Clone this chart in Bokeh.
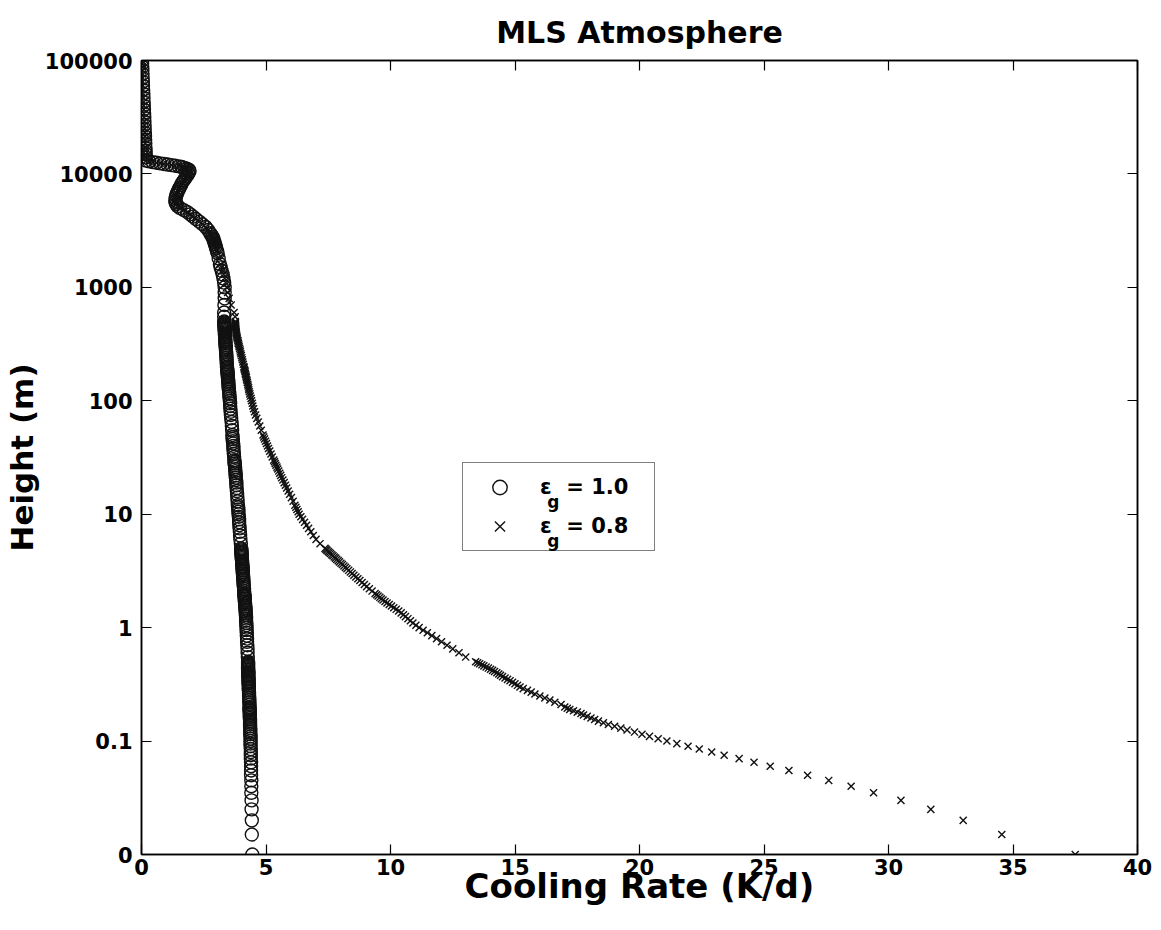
from bokeh.plotting import figure
from bokeh.models import (ColumnDataSource, FixedTicker, CustomJSTickFormatter, LinearAxis,
                          LogAxis, Legend, LegendItem, Label, Range1d)
from bokeh.embed import file_html
from bokeh.resources import INLINE

# ---------------- data ----------------
# Lower levels (m): both emissivity runs share these heights
height_lower = [
    0.01, 0.015, 0.02, 0.025, 0.03, 0.035, 0.04, 0.045, 0.05, 0.055, 0.06, 0.065, 0.07, 0.075,
    0.08, 0.085, 0.09, 0.095, 0.1, 0.105, 0.11, 0.115, 0.12, 0.125, 0.13, 0.135, 0.14, 0.145,
    0.15, 0.155, 0.16, 0.165, 0.17, 0.175, 0.18, 0.185, 0.19, 0.195, 0.2,
    0.21, 0.22, 0.23, 0.24, 0.25, 0.26, 0.27, 0.28, 0.29, 0.3, 0.31, 0.32, 0.33, 0.34, 0.35,
    0.36, 0.37, 0.38, 0.39, 0.4, 0.41, 0.42, 0.43, 0.44, 0.45, 0.46, 0.47, 0.48, 0.49, 0.5,
    0.55, 0.6, 0.65, 0.7, 0.75, 0.8, 0.85, 0.9, 0.95, 1.0, 1.05, 1.1, 1.15, 1.2, 1.25, 1.3,
    1.35, 1.4, 1.45, 1.5, 1.55, 1.6, 1.65, 1.7, 1.75, 1.8, 1.85, 1.9, 1.95, 2.0,
    2.1, 2.2, 2.3, 2.4, 2.5, 2.6, 2.7, 2.8, 2.9, 3.0, 3.1, 3.2, 3.3, 3.4, 3.5, 3.6, 3.7, 3.8,
    3.9, 4.0, 4.1, 4.2, 4.3, 4.4, 4.5, 4.6, 4.7, 4.8, 4.9, 5.0,
    5.5, 6, 6.5, 7, 7.5, 8, 8.5, 9, 9.5, 10, 10.5, 11, 11.5, 12,
    13, 14, 15, 16, 17, 18, 19, 20, 21, 22, 23, 24, 25, 26, 27, 28, 29, 30,
    32, 34, 36, 38, 40, 42, 44, 46, 48, 50,
    55, 60, 65, 70, 75, 80,
    85, 90, 95, 100, 105, 110, 115, 120, 125, 130, 135, 140, 145, 150, 155, 160, 165, 170,
    175, 180, 185, 190, 195, 200,
    210, 220, 230, 240, 250, 260, 270, 280, 290, 300, 310, 320, 330, 340, 350, 360, 370, 380,
    390, 400, 410, 420, 430, 440, 450, 460, 470, 480, 490, 500,
    550, 600, 700, 800, 900, 1000, 1100, 1200, 1300, 1400, 1500, 1600, 1800,
]

# cooling rate (K/d), eps_g = 1.0 (circles)
rate_eps10_lower = [
    4.45, 4.43, 4.43, 4.42, 4.42, 4.41, 4.41, 4.41, 4.40, 4.40, 4.40, 4.40, 4.39, 4.39,
    4.39, 4.39, 4.38, 4.38, 4.38, 4.38, 4.38, 4.37, 4.37, 4.37, 4.37, 4.36, 4.36, 4.36,
    4.36, 4.36, 4.35, 4.35, 4.35, 4.35, 4.35, 4.34, 4.34, 4.34, 4.34,
    4.34, 4.33, 4.33, 4.33, 4.32, 4.32, 4.32, 4.31, 4.31, 4.31, 4.31, 4.30, 4.30, 4.30, 4.30,
    4.30, 4.29, 4.29, 4.29, 4.29, 4.29, 4.29, 4.28, 4.28, 4.28, 4.28, 4.28, 4.28, 4.28, 4.28,
    4.27, 4.26, 4.26, 4.25, 4.24, 4.24, 4.23, 4.23, 4.22, 4.22, 4.21, 4.21, 4.20, 4.20, 4.20,
    4.19, 4.19, 4.18, 4.18, 4.17, 4.17, 4.16, 4.16, 4.15, 4.15, 4.15, 4.14, 4.14, 4.13, 4.13,
    4.12, 4.12, 4.11, 4.10, 4.10, 4.09, 4.09, 4.08, 4.08, 4.07, 4.07, 4.06, 4.06, 4.06, 4.05,
    4.05, 4.04, 4.04, 4.04, 4.03, 4.03, 4.03, 4.02, 4.02, 4.02, 4.01, 4.01, 4.01, 4.00, 4.00,
    3.99, 3.97, 3.96, 3.95, 3.94, 3.93, 3.92, 3.92, 3.91, 3.90, 3.89, 3.89, 3.88, 3.87,
    3.86, 3.85, 3.84, 3.83, 3.82, 3.81, 3.81, 3.80, 3.79, 3.78, 3.78, 3.77, 3.76, 3.76, 3.75,
    3.74, 3.74, 3.73,
    3.72, 3.71, 3.70, 3.69, 3.69, 3.68, 3.67, 3.66, 3.66, 3.65,
    3.64, 3.63, 3.62, 3.60, 3.59, 3.58,
    3.57, 3.56, 3.56, 3.55, 3.54, 3.53, 3.53, 3.52, 3.51, 3.50, 3.50, 3.49, 3.49, 3.48, 3.48,
    3.47, 3.47, 3.46, 3.46, 3.45, 3.45, 3.44, 3.44, 3.43,
    3.43, 3.42, 3.42, 3.41, 3.41, 3.40, 3.40, 3.39, 3.39, 3.38, 3.38, 3.37, 3.37, 3.37, 3.36,
    3.36, 3.36, 3.35, 3.35, 3.35, 3.35, 3.34, 3.34, 3.34, 3.34, 3.33, 3.33, 3.33, 3.33, 3.32,
    3.32, 3.32, 3.33, 3.34, 3.34, 3.34, 3.32, 3.29, 3.26, 3.22, 3.18, 3.15, 3.10,
]

# cooling rate (K/d), eps_g = 0.8 (crosses)
rate_eps08_lower = [
    37.5, 34.55, 33.0, 31.7, 30.5, 29.4, 28.5, 27.6, 26.75, 26.0, 25.25, 24.6, 24.0, 23.4,
    22.9, 22.4, 21.95, 21.5, 21.1, 20.75, 20.4, 20.1, 19.8, 19.5, 19.25, 19.0, 18.75, 18.55,
    18.35, 18.2, 18.05, 17.9, 17.75, 17.65, 17.5, 17.35, 17.2, 17.1, 17.0,
    16.85, 16.6, 16.4, 16.2, 16.0, 15.8, 15.65, 15.5, 15.33, 15.2, 15.1, 15.0, 14.9, 14.8, 14.7,
    14.6, 14.5, 14.42, 14.35, 14.27, 14.18, 14.1, 14.02, 13.93, 13.84, 13.75, 13.67, 13.58,
    13.5, 13.42,
    13.02, 12.75, 12.5, 12.27, 12.05, 11.85, 11.66, 11.48, 11.31, 11.15, 11.02, 10.9, 10.8,
    10.7, 10.6, 10.52, 10.43, 10.33, 10.23, 10.13, 10.04, 9.95, 9.86, 9.78, 9.7, 9.63, 9.57,
    9.5, 9.44, 9.38,
    9.26, 9.15, 9.04, 8.95, 8.86, 8.77, 8.69, 8.61, 8.53, 8.46, 8.39, 8.32, 8.25, 8.19, 8.13,
    8.07, 8.01, 7.95, 7.9, 7.84, 7.79, 7.74, 7.69, 7.64, 7.59, 7.54, 7.5, 7.45, 7.41, 7.37,
    7.17, 7.01, 6.9, 6.8, 6.71, 6.63, 6.55, 6.47, 6.4, 6.33, 6.29, 6.24, 6.2, 6.16,
    6.09, 6.02, 5.95, 5.89, 5.83, 5.78, 5.73, 5.68, 5.63, 5.59, 5.55, 5.51, 5.47, 5.44, 5.4,
    5.37, 5.34, 5.31,
    5.25, 5.2, 5.15, 5.1, 5.06, 5.02, 4.98, 4.94, 4.91, 4.88,
    4.81, 4.75, 4.69, 4.63, 4.58, 4.54,
    4.5, 4.47, 4.45, 4.42, 4.4, 4.37, 4.35, 4.33, 4.31, 4.3, 4.28, 4.27, 4.25, 4.24, 4.22,
    4.21, 4.2, 4.18, 4.17, 4.16, 4.15, 4.13, 4.12, 4.11,
    4.09, 4.07, 4.05, 4.03, 4.01, 3.99, 3.97, 3.96, 3.94, 3.92, 3.91, 3.89, 3.88, 3.87, 3.85,
    3.84, 3.83, 3.82, 3.81, 3.8, 3.8, 3.79, 3.79, 3.78, 3.78, 3.78, 3.77, 3.77, 3.77, 3.77,
    3.76, 3.72, 3.6, 3.52, 3.46, 3.42, 3.38, 3.34, 3.3, 3.26, 3.22, 3.18, 3.12,
]

# Upper levels (m): both runs coincide here
height_upper = [
    2000, 2100, 2200, 2300, 2400, 2500, 2600, 2700, 2800, 2900, 3000,
    3200, 3400, 3600, 3800, 4000, 4200, 4400, 4600, 4800, 5000,
    5200, 5400, 5600, 5800, 6100, 6400, 6700, 7000, 7300, 7600,
    8000, 8400, 8800, 9200, 9600, 10000, 10300, 10600, 10900, 11100, 11300, 11500,
    11650, 11800, 11950, 12100, 12250, 12400, 12550, 12700, 12900, 13100,
    14000, 15000, 16000, 17000, 18500, 20000, 21500, 23000, 25000, 27000, 29000, 31500,
    34000, 37000, 40000, 43000, 47000, 51000, 55000, 60000, 65000, 70000, 76000, 82000,
    88000, 94000, 100000,
]
rate_upper = [
    3.06, 3.03, 3.0, 2.98, 2.95, 2.93, 2.9, 2.88, 2.85, 2.8, 2.76,
    2.68, 2.58, 2.45, 2.32, 2.19, 2.07, 1.96, 1.84, 1.7, 1.55,
    1.45, 1.4, 1.37, 1.36, 1.37, 1.39, 1.42, 1.46, 1.5, 1.54,
    1.59, 1.64, 1.7, 1.76, 1.82, 1.87, 1.9, 1.93, 1.9, 1.82, 1.72, 1.62,
    1.5, 1.35, 1.2, 1.05, 0.9, 0.75, 0.6, 0.45, 0.3, 0.18,
    0.175, 0.17, 0.165, 0.16, 0.153, 0.147, 0.141, 0.136, 0.129, 0.123, 0.118, 0.111,
    0.105, 0.098, 0.092, 0.087, 0.08, 0.073, 0.067, 0.06, 0.054, 0.048, 0.042, 0.036,
    0.03, 0.025, 0.02,
]

series_labels = ["ε  = 1.0", "ε  = 0.8"]
subscript = "g"
x_tick_values = [0, 5, 10, 15, 20, 25, 30, 35, 40]
y_tick_values = [0.01, 0.1, 1, 10, 100, 1000, 10000, 100000]
y_tick_labels = ["0", "0.1", "1", "10", "100", "1000", "10000", "100000"]

assert len(height_lower) == len(rate_eps10_lower) == len(rate_eps08_lower)
assert len(height_upper) == len(rate_upper)

src10 = ColumnDataSource(dict(rate=rate_eps10_lower + rate_upper, height=height_lower + height_upper))
src08 = ColumnDataSource(dict(rate=rate_eps08_lower + rate_upper, height=height_lower + height_upper))

FONT = "DejaVu Sans"
INK = "#111111"

p = figure(width=1161, height=930, y_axis_type="log",
           x_range=Range1d(0, 40), y_range=Range1d(0.01, 100000),
           output_backend="svg", toolbar_location=None,
           min_border_left=137, min_border_right=24, min_border_top=60, min_border_bottom=76)
p.background_fill_color = "white"
p.border_fill_color = "white"
p.outline_line_color = "black"
p.outline_line_width = 1.5
p.grid.visible = False

p.title.text = "MLS Atmosphere"
p.title.align = "center"
p.title.text_font = FONT
p.title.text_font_size = "30px"
p.title.text_font_style = "bold"
p.title.text_color = "black"
p.title.standoff = 21

r08 = p.scatter(x="rate", y="height", source=src08, marker="x", size=10,
                line_color=INK, line_width=1.4)
r10 = p.scatter(x="rate", y="height", source=src10, marker="circle", size=13,
                fill_color=None, line_color=INK, line_width=1.4)

def style_axis(ax):
    ax.major_tick_in = 10
    ax.major_tick_out = 0
    ax.minor_tick_line_color = None
    ax.major_tick_line_color = "black"
    ax.major_tick_line_width = 1.2
    ax.axis_line_color = "black"
    ax.axis_line_width = 1.5
    ax.major_label_text_font = FONT
    ax.major_label_text_font_size = "21px"
    ax.major_label_text_font_style = "bold"
    ax.major_label_text_color = "black"
    ax.axis_label_text_font = FONT
    ax.axis_label_text_font_size = "34px"
    ax.axis_label_text_font_style = "bold"
    ax.axis_label_text_color = "black"

xa = p.xaxis[0]
style_axis(xa)
xa.ticker = FixedTicker(ticks=x_tick_values)
xa.axis_label = "Cooling Rate (K/d)"
xa.major_label_standoff = 4
xa.axis_label_standoff = -12

ya = p.yaxis[0]
style_axis(ya)
ya.ticker = FixedTicker(ticks=y_tick_values)
ya.formatter = CustomJSTickFormatter(args=dict(vals=y_tick_values, labs=y_tick_labels), code="""
    for (let i = 0; i < vals.length; i++) {
        if (Math.abs(Math.log10(tick) - Math.log10(vals[i])) < 1e-6) { return labs[i]; }
    }
    return "";
""")
ya.axis_label = "Height (m)"
ya.axis_label_text_font_size = "31px"
ya.major_label_standoff = 9
ya.axis_label_standoff = 2

blank = CustomJSTickFormatter(code="return '';")
top = LinearAxis(ticker=FixedTicker(ticks=x_tick_values), formatter=blank)
style_axis(top)
top.major_label_standoff = 0
top.major_label_text_font_size = "1px"
p.add_layout(top, "above")
right = LogAxis(ticker=FixedTicker(ticks=y_tick_values), formatter=blank)
style_axis(right)
right.major_label_standoff = 0
right.major_label_text_font_size = "1px"
p.add_layout(right, "right")

legend = Legend(items=[LegendItem(label=series_labels[0], renderers=[r10]),
                       LegendItem(label=series_labels[1], renderers=[r08])],
                location=(321, 303), orientation="vertical",
                padding=6, spacing=3, margin=0,
                glyph_height=36, glyph_width=61, label_standoff=10, label_width=108,
                label_text_font=FONT, label_text_font_size="21px", label_text_font_style="bold",
                label_text_color="black", label_text_baseline="alphabetic",
                border_line_color="black", border_line_width=1.5,
                background_fill_alpha=0.0)
p.add_layout(legend)

# subscript "g" of epsilon in the legend entries
for ypos in (12.9, 5.75):
    p.add_layout(Label(x=16.3, y=ypos, text=subscript,
                       text_font=FONT, text_font_size="17px", text_font_style="bold",
                       text_color="black", text_baseline="alphabetic", level="overlay"))

open("out.html", "w").write(file_html(p, INLINE))
